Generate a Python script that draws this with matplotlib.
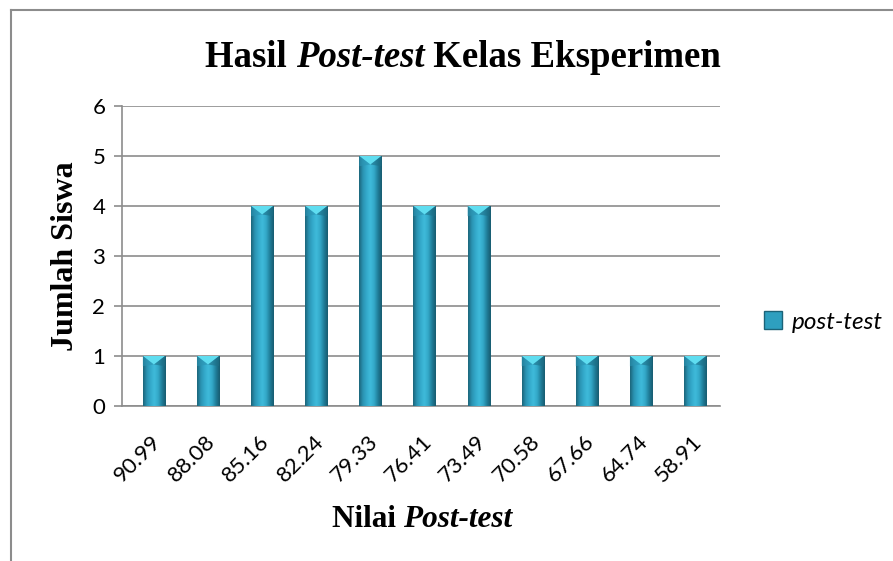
import numpy as np
import matplotlib.pyplot as plt
from matplotlib.colors import LinearSegmentedColormap
from matplotlib.patches import Polygon, Rectangle
from matplotlib.lines import Line2D
import matplotlib.transforms as mtransforms

# data
nilai = ['90.99', '88.08', '85.16', '82.24', '79.33', '76.41',
         '73.49', '70.58', '67.66', '64.74', '58.91']
jumlah = [1, 1, 4, 4, 5, 4, 4, 1, 1, 1, 1]

W, H = 893, 561
fig = plt.figure(figsize=(W / 100, H / 100), dpi=100)
ax = fig.add_axes([122 / W, 1 - 406 / H, (720 - 122) / W, 300 / H])

tick_font = 'Lato'
serif = 'Liberation Serif'

x = np.arange(len(nilai))
bw = 0.41
bars = ax.bar(x, jumlah, width=bw, color='#2E9FBF', zorder=3)

# cylinder-like shading for each bar
cmap = LinearSegmentedColormap.from_list(
    'cyl', ['#1B6378', '#2A93B2', '#34AACB', '#3FBBDB', '#33A7C7', '#1F7C97', '#175A6E'])
grad = np.linspace(0, 1, 256).reshape(1, -1)
for b in bars:
    x0, w, h = b.get_x(), b.get_width(), b.get_height()
    # soft shadow under the bar
    ax.add_patch(Rectangle((x0 - 0.01, -0.04), w + 0.02, 0.05, color='#9a9a9a',
                           alpha=0.5, zorder=2, lw=0))
    im = ax.imshow(grad, cmap=cmap, aspect='auto', extent=(x0, x0 + w, 0, h),
                   zorder=4, interpolation='bicubic')
    im.set_clip_path(b)
    th = 0.17
    ax.add_patch(Polygon([(x0, h), (x0 + w, h), (x0 + w / 2, h - th)],
                         closed=True, facecolor='#5FDDF0', edgecolor='none', zorder=5))
    ax.add_patch(Polygon([(x0, h), (x0 + w / 2, h - th), (x0, h - th * 1.2)],
                         closed=True, facecolor='#2C94B3', edgecolor='none', zorder=5, alpha=0.6))
    ax.add_patch(Polygon([(x0 + w, h), (x0 + w / 2, h - th), (x0 + w, h - th * 1.2)],
                         closed=True, facecolor='#1E6F87', edgecolor='none', zorder=5, alpha=0.6))

ax.set_xlim(-0.59, len(nilai) - 0.54)
ax.set_ylim(0, 6)
ax.set_yticks(range(7))
ax.yaxis.grid(True, color='#8c8c8c', lw=1.2, zorder=0)
ax.set_axisbelow(True)
for s in ['top', 'right']:
    ax.spines[s].set_visible(False)
ax.spines['left'].set_color('#8c8c8c')
ax.spines['left'].set_linewidth(1.2)
ax.spines['bottom'].set_color('#8c8c8c')
ax.spines['bottom'].set_linewidth(1.2)
ax.tick_params(axis='y', length=6, color='#8c8c8c', width=1.2, labelsize=16, pad=6)
ax.tick_params(axis='x', length=0, labelsize=16, pad=8)
ax.set_xticks(x)
ax.set_xticklabels(nilai, rotation=45, ha='right', rotation_mode='anchor')
offset = mtransforms.ScaledTranslation(-3 / 100, -14 / 100, fig.dpi_scale_trans)
for lab in ax.get_xticklabels():
    lab.set_fontfamily(tick_font)
    lab.set_transform(lab.get_transform() + offset)
for lab in ax.get_yticklabels():
    lab.set_fontfamily(tick_font)

ax.set_ylabel('Jumlah Siswa', fontfamily=serif, fontweight='bold', fontsize=23, labelpad=9)


def mixed_text(parts, cx, y, size):
    # place pieces of differently styled text on one baseline, centered at cx
    fig.canvas.draw()
    r = fig.canvas.get_renderer()
    items = []
    for s, style in parts:
        t = fig.text(0, y, s, fontfamily=serif, fontweight='bold', fontstyle=style,
                     fontsize=size, va='baseline', ha='left')
        items.append(t)
    widths = [t.get_window_extent(r).width for t in items]
    total = sum(widths)
    xpos = cx * W - total / 2
    for t, w in zip(items, widths):
        t.set_x(xpos / W)
        xpos += w


mixed_text([('Hasil ', 'normal'), ('Post-test', 'italic'), (' Kelas Eksperimen', 'normal')],
           463 / W, 1 - 67 / H, 26.5)
mixed_text([('Nilai ', 'normal'), ('Post-test', 'italic')], 422 / W, 1 - 527 / H, 22.5)

# legend
handle = Rectangle((0, 0), 1, 1, facecolor='#2E9FBF', edgecolor='#1B6378', lw=1)
fig.legend([handle], ['post-test'], loc='center left', bbox_to_anchor=(742 / W, 1 - 322 / H),
           frameon=False, prop={'family': tick_font, 'style': 'italic', 'size': 17.5},
           handlelength=0.75, handleheight=0.75, handletextpad=0.4)

# outer frame lines (top and left)
fig.add_artist(Line2D([11 / W, 1], [1 - 10 / H, 1 - 10 / H], color='#8c8c8c', lw=1.5))
fig.add_artist(Line2D([11 / W, 11 / W], [0, 1 - 10 / H], color='#8c8c8c', lw=1.5))

fig.savefig('out.png', dpi=100)
